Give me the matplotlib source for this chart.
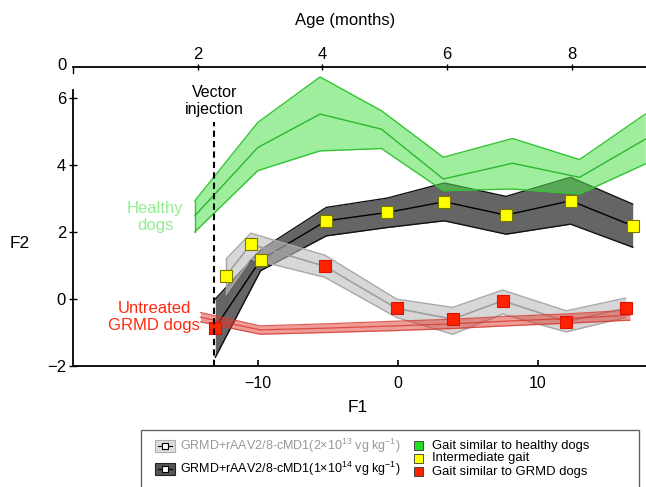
import matplotlib
matplotlib.use("Agg")
import matplotlib.pyplot as plt
from matplotlib.patches import Rectangle
from matplotlib.lines import Line2D

plt.rcParams['font.family'] = ['Liberation Sans', 'DejaVu Sans']
plt.rcParams['mathtext.fontset'] = 'custom'
plt.rcParams['mathtext.rm'] = 'Liberation Sans'
plt.rcParams['mathtext.default'] = 'regular'

# ---------------- data ----------------
healthy_f1 = [-14.5, -10.0, -5.55, -1.16, 3.26, 8.21, 13.0, 17.7]
healthy_mean = [2.49, 4.53, 5.53, 5.08, 3.59, 4.06, 3.64, 4.78]
healthy_upper = [2.94, 5.28, 6.64, 5.63, 4.24, 4.80, 4.17, 5.53]
healthy_lower = [2.01, 3.84, 4.43, 4.50, 3.24, 3.29, 3.14, 4.04]

high_f1 = [-13.04, -9.8, -5.1, -0.74, 3.33, 7.74, 12.36, 16.8]
high_mean = [-0.85, 1.17, 2.34, 2.59, 2.91, 2.51, 2.94, 2.19]
high_upper = [0.0, 1.47, 2.74, 3.02, 3.47, 3.07, 3.64, 2.84]
high_lower = [-1.74, 0.85, 1.89, 2.14, 2.34, 1.94, 2.24, 1.55]
high_gait = ['grmd', 'inter', 'inter', 'inter', 'inter', 'inter', 'inter', 'inter']

low_f1 = [-12.26, -10.5, -5.2, -0.07, 3.93, 7.5, 12.05, 16.3]
low_mean = [0.70, 1.64, 0.98, -0.28, -0.60, -0.05, -0.67, -0.27]
low_upper = [1.20, 1.97, 1.31, 0.0, -0.25, 0.27, -0.35, 0.03]
low_lower = [0.15, 1.20, 0.65, -0.55, -1.05, -0.45, -0.98, -0.55]
low_gait = ['inter', 'inter', 'grmd', 'grmd', 'grmd', 'grmd', 'grmd', 'grmd']

untr_f1 = [-14.1, -9.84, -5.2, -0.1, 3.9, 7.7, 12.2, 16.6]
untr_upper = [-0.40, -0.80, -0.74, -0.66, -0.60, -0.52, -0.44, -0.33]
untr_lower = [-0.68, -1.05, -1.00, -0.94, -0.88, -0.80, -0.72, -0.63]
untr_mean = [-0.54, -0.92, -0.87, -0.80, -0.74, -0.66, -0.58, -0.48]

injection_f1 = -13.1
age_ticks = [2, 4, 6, 8]
f1_ticks = [-10, 0, 10]
f2_ticks = [-2, 0, 2, 4, 6]

gait_colors = {'healthy': '#22DD22', 'inter': '#FFFF00', 'grmd': '#FF2200'}
gait_edges = {'healthy': '#118811', 'inter': '#777700', 'grmd': '#DD1100'}

W, H = 646, 487
fig = plt.figure(figsize=(W / 100, H / 100), dpi=100)

def fx(px):
    return px / W

def fy(py):
    return 1 - py / H

# main axes
ax_l, ax_r, ax_t, ax_b = 73, 646, 90, 366
ax = fig.add_axes([fx(ax_l), fy(ax_b), fx(ax_r - ax_l), (ax_b - ax_t) / H])
ax.set_xlim(-23.21, 17.75)
ax.set_ylim(-2.0, 6.25)
for s in ['top', 'right']:
    ax.spines[s].set_visible(False)
for s in ['left', 'bottom']:
    ax.spines[s].set_linewidth(1.3)
ax.set_xticks(f1_ticks)
ax.set_yticks(f2_ticks)
ax.tick_params(axis='x', direction='in', length=4, width=1.2, labelsize=11.5, pad=7)
ax.tick_params(axis='y', direction='inout', length=6, width=1.0, labelsize=12, pad=2)

# dark band (high dose)
ax.fill_between(high_f1, high_lower, high_upper, color='#4a4a4a', alpha=0.85,
                lw=0, zorder=2)
ax.plot(high_f1, high_upper, color='#111111', lw=1.0, zorder=2.1)
ax.plot(high_f1, high_lower, color='#111111', lw=1.0, zorder=2.1)
ax.plot(high_f1, high_mean, color='#000000', lw=1.0, zorder=2.2)

# light band (low dose)
ax.fill_between(low_f1, low_lower, low_upper, color='#bdbdbd', alpha=0.6,
                lw=0, zorder=3)
ax.plot(low_f1, low_upper, color='#a8a8a8', lw=1.0, zorder=3.1)
ax.plot(low_f1, low_lower, color='#a8a8a8', lw=1.0, zorder=3.1)
ax.plot(low_f1, low_mean, color='#a0a0a0', lw=1.2, zorder=3.2)
ax.plot([low_f1[0], low_f1[0]], [low_lower[0], low_upper[0]], color='#a8a8a8', lw=1.0, zorder=3.1)

# green band (healthy)
ax.fill_between(healthy_f1, healthy_lower, healthy_upper, color='#4ee04e', alpha=0.55,
                lw=0, zorder=4, clip_on=False)
ax.plot(healthy_f1, healthy_upper, color='#33c433', lw=1.0, zorder=4.1, clip_on=False)
ax.plot(healthy_f1, healthy_lower, color='#33c433', lw=1.0, zorder=4.1, clip_on=False)
ax.plot(healthy_f1, healthy_mean, color='#2fb52f', lw=1.0, zorder=4.2, clip_on=False)
ax.plot([healthy_f1[0], healthy_f1[0]], [healthy_lower[0], healthy_upper[0]], color='#33c433', lw=1.0, zorder=4.1)

# red band (untreated)
ax.fill_between(untr_f1, untr_lower, untr_upper, color='#e03a30', alpha=0.5,
                lw=0, zorder=5)
ax.plot(untr_f1, untr_upper, color='#d23a30', lw=0.9, alpha=0.8, zorder=5.1)
ax.plot(untr_f1, untr_lower, color='#d23a30', lw=0.9, alpha=0.8, zorder=5.1)
ax.plot(untr_f1, untr_mean, color='#d23a30', lw=0.9, alpha=0.8, zorder=5.1)

# markers
for xs, ys, gs in [(high_f1, high_mean, high_gait), (low_f1, low_mean, low_gait)]:
    for x, y, g in zip(xs, ys, gs):
        ax.plot([x], [y], marker='s', ms=8.5, mfc=gait_colors[g], mec=gait_edges[g],
                mew=0.8, ls='none', zorder=7)

# vector injection line
ax.plot([injection_f1, injection_f1], [-2.0, 5.28], color='black', lw=1.5,
        ls=(0, (3, 2)), zorder=8, clip_on=False)
ax.text(injection_f1, 5.92, 'Vector\ninjection', ha='center', va='center',
        fontsize=11.5, linespacing=1.15, zorder=9)
ax.text(-17.35, 2.46, 'Healthy\ndogs', ha='center', va='center', fontsize=12,
        color='#90ee90', linespacing=1.15)
ax.text(-17.4, -0.54, 'Untreated\nGRMD dogs', ha='center', va='center', fontsize=12,
        color='#ff2a10', linespacing=1.15)

fig.text(fx(20), fy(243), 'F2', ha='center', va='center', fontsize=12.5)
fig.text(fx(358), fy(408), 'F1', ha='center', va='center', fontsize=12.5)

# top age axis
top_y = 66.7
axt = fig.add_axes([fx(ax_l), fy(top_y), fx(ax_r - ax_l), 0.0001])
axt.set_xlim(0, (ax_r - ax_l) / 62.35)
axt.set_ylim(0, 1)
for s in ['left', 'right', 'bottom']:
    axt.spines[s].set_visible(False)
axt.spines['top'].set_linewidth(1.3)
axt.set_yticks([])
axt.set_xticks(age_ticks)
axt.tick_params(axis='x', top=True, bottom=False, labeltop=True, labelbottom=False,
                direction='inout', length=5, width=1.0, labelsize=12, pad=1)
fig.add_artist(Line2D([fx(ax_l), fx(ax_l)], [fy(top_y), fy(top_y + 6)], color='black', lw=1.0))
fig.text(fx(62), fy(65), '0', ha='center', va='center', fontsize=12)
fig.text(fx(345), fy(20), 'Age (months)', ha='center', va='center', fontsize=12)

# legend box
fig.add_artist(Rectangle((fx(141), fy(492)), fx(639 - 141), (492 - 430) / H,
                         transform=fig.transFigure, facecolor='white', edgecolor='#666666', lw=1.0))

def dose_patch(cy, face, edge, text, tcolor):
    x0, x1 = 155, 175
    fig.add_artist(Rectangle((fx(x0), fy(cy + 6)), fx(x1 - x0), 12 / H, transform=fig.transFigure,
                             facecolor=face, edgecolor=edge, lw=0.8))
    fig.add_artist(Line2D([fx(x0 + 3), fx(x1 - 3)], [fy(cy), fy(cy)], color='black', lw=0.8))
    fig.add_artist(Line2D([fx((x0 + x1) / 2)], [fy(cy)], marker='s', ms=5, mfc='white',
                          mec='black', mew=0.8, ls='none'))
    fig.text(fx(180), fy(cy), text, ha='left', va='center', fontsize=9.0, color=tcolor)

dose_patch(446, '#dcdcdc', '#b0b0b0', 'GRMD+rAAV2/8-cMD1(2×10$^{13}$ vg kg$^{-1}$)', '#999999')
dose_patch(469, '#555555', '#222222', 'GRMD+rAAV2/8-cMD1(1×10$^{14}$ vg kg$^{-1}$)', '#000000')

for cy, g, txt in [(445.5, 'healthy', 'Gait similar to healthy dogs'),
                   (458.5, 'inter', 'Intermediate gait'),
                   (471.5, 'grmd', 'Gait similar to GRMD dogs')]:
    fig.add_artist(Rectangle((fx(414), fy(cy + 4.5)), fx(9), 9 / H, transform=fig.transFigure,
                             facecolor=gait_colors[g], edgecolor='#333333', lw=0.6))
    fig.text(fx(432), fy(cy), txt, ha='left', va='center', fontsize=9.4)

fig.savefig('out.png', dpi=100)
